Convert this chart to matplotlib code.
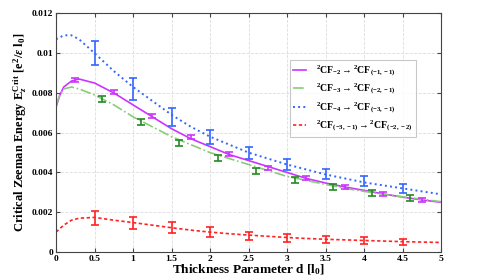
import matplotlib
matplotlib.use('Agg')
import matplotlib.pyplot as plt
import numpy as np

plt.rcParams['font.family'] = ['Liberation Serif', 'DejaVu Serif']
plt.rcParams['font.weight'] = 'bold'
plt.rcParams['mathtext.fontset'] = 'custom'
plt.rcParams['mathtext.rm'] = 'Liberation Serif:bold'
plt.rcParams['mathtext.it'] = 'Liberation Serif:bold:italic'
plt.rcParams['mathtext.bf'] = 'Liberation Serif:bold'

# smooth curves
curve_x = [0.0, 0.05, 0.1, 0.2, 0.3, 0.5, 0.75, 1.0, 1.25, 1.5, 1.75, 2.0, 2.25, 2.5,
           2.75, 3.0, 3.25, 3.5, 3.75, 4.0, 4.25, 4.5, 4.75, 5.0]
purple_curve = [0.0073, 0.0079, 0.0083, 0.0086, 0.0087, 0.0085, 0.0080, 0.0074, 0.0068, 0.0062,
                0.0057, 0.0053, 0.0049, 0.0046, 0.0043, 0.0040, 0.0037, 0.00347, 0.00327, 0.0031,
                0.00292, 0.00276, 0.00262, 0.0025]
green_curve = [0.0074, 0.0079, 0.0082, 0.0083, 0.0082, 0.0079, 0.0074, 0.0068, 0.0063, 0.0058,
               0.0054, 0.0050, 0.0047, 0.0044, 0.0041, 0.0038, 0.0036, 0.0034, 0.0032, 0.00305,
               0.0029, 0.00278, 0.00265, 0.00253]
blue_curve = [0.0107, 0.0108, 0.0109, 0.0109, 0.0107, 0.0100, 0.0091, 0.0083, 0.0076, 0.0069,
              0.0063, 0.0058, 0.0054, 0.0050, 0.0047, 0.0044, 0.00415, 0.0039, 0.0037, 0.0035,
              0.00335, 0.0032, 0.00305, 0.0029]
red_curve = [0.0010, 0.00118, 0.00135, 0.0016, 0.0017, 0.00174, 0.0016, 0.00148, 0.00135, 0.00122,
             0.0011, 0.0010, 0.00092, 0.00085, 0.00079, 0.00073, 0.00068, 0.00064, 0.00061, 0.00058,
             0.00055, 0.00052, 0.0005, 0.00048]

# error bar data
purple_x = [0.25, 0.75, 1.25, 1.75, 2.25, 2.75, 3.25, 3.75, 4.25, 4.75]
purple_y = [0.00865, 0.00803, 0.00684, 0.00577, 0.00492, 0.00421, 0.00371, 0.00325, 0.00293, 0.00262]
purple_err = [0.0001] * 10
green_x = [0.6, 1.1, 1.6, 2.1, 2.6, 3.1, 3.6, 4.1, 4.6]
green_y = [0.0077, 0.00652, 0.0055, 0.00471, 0.00409, 0.00362, 0.00325, 0.00295, 0.0027]
green_err = [0.00015] * 9
blue_x = [0.5, 1.0, 1.5, 2.0, 2.5, 3.0, 3.5, 4.0, 4.5]
blue_y = [0.0100, 0.0082, 0.0068, 0.0058, 0.0050, 0.0044, 0.0039, 0.00357, 0.0032]
blue_err = [0.0006, 0.00053, 0.00045, 0.00035, 0.0003, 0.00028, 0.00025, 0.00023, 0.00022]
red_x = [0.5, 1.0, 1.5, 2.0, 2.5, 3.0, 3.5, 4.0, 4.5]
red_y = [0.00172, 0.00148, 0.00122, 0.001, 0.00081, 0.0007, 0.00062, 0.00057, 0.00051]
red_err = [0.00036, 0.0003, 0.00028, 0.00024, 0.00021, 0.00019, 0.00018, 0.00017, 0.00016]

labels = [r'$^{2}\mathrm{CF}_{-2} \rightarrow {}^{2}\mathrm{CF}_{(-1,-1)}$',
          r'$^{2}\mathrm{CF}_{-3} \rightarrow {}^{2}\mathrm{CF}_{(-2,-1)}$',
          r'$^{2}\mathrm{CF}_{-4} \rightarrow {}^{2}\mathrm{CF}_{(-3,-1)}$',
          r'$^{2}\mathrm{CF}_{(-3,-1)} \rightarrow {}^{2}\mathrm{CF}_{(-2,-2)}$']

fig = plt.figure(figsize=(4.79, 2.8), dpi=100)
ax = fig.add_axes([0.117, 0.1, 0.804, 0.852])

ax.plot(curve_x, purple_curve, '-', color='#cc33ff', lw=1.2, label=labels[0])
ax.plot(curve_x, green_curve, '-.', color='#88cc77', lw=1.2, label=labels[1])
ax.plot(curve_x, blue_curve, ':', color='#3366ff', lw=1.4, label=labels[2])
ax.plot(curve_x, red_curve, '--', color='#ff2222', lw=1.2, dashes=(2, 1.5), label=labels[3])

eb = dict(fmt='none', capsize=3, elinewidth=1.2, capthick=1.2)
ax.errorbar(purple_x, purple_y, yerr=purple_err, ecolor='#cc33ff', **eb)
ax.errorbar(green_x, green_y, yerr=green_err, ecolor='#228b22', **eb)
ax.errorbar(blue_x, blue_y, yerr=blue_err, ecolor='#3366ff', **eb)
ax.errorbar(red_x, red_y, yerr=red_err, ecolor='#ff2222', **eb)

ax.set_xlim(0, 5)
ax.set_ylim(0, 0.012)
ax.set_xticks(np.arange(0, 5.01, 0.5))
ax.set_xticklabels(['0', '0.5', '1', '1.5', '2', '2.5', '3', '3.5', '4', '4.5', '5'])
ax.set_yticks(np.arange(0, 0.0121, 0.002))
ax.set_yticklabels(['0', '0.002', '0.004', '0.006', '0.008', '0.01', '0.012'])
ax.tick_params(direction='in', top=True, right=True, labelsize=6.8, length=3, pad=2,
               color='#444444')
ax.grid(True, ls='--', color='#dddddd', lw=0.6)
for s in ax.spines.values():
    s.set_color('#444444')

ax.set_xlabel(r'Thickness Parameter d [l$_0$]', fontsize=9.5, fontweight='bold', labelpad=0)
ax.set_ylabel(r'Critical Zeeman Energy E$_z^{\mathrm{Crit}}$ [e$^2$/$\epsilon$ l$_0$]',
              fontsize=9, fontweight='bold', labelpad=2)

leg = ax.legend(loc='upper left', bbox_to_anchor=(0.595, 0.825), fontsize=7,
                frameon=True, fancybox=False, edgecolor='#bbbbbb', handlelength=1.3,
                borderpad=0.35, labelspacing=0.4, handletextpad=1.0)
leg.get_frame().set_linewidth(0.8)

fig.savefig('out.png', dpi=100)
